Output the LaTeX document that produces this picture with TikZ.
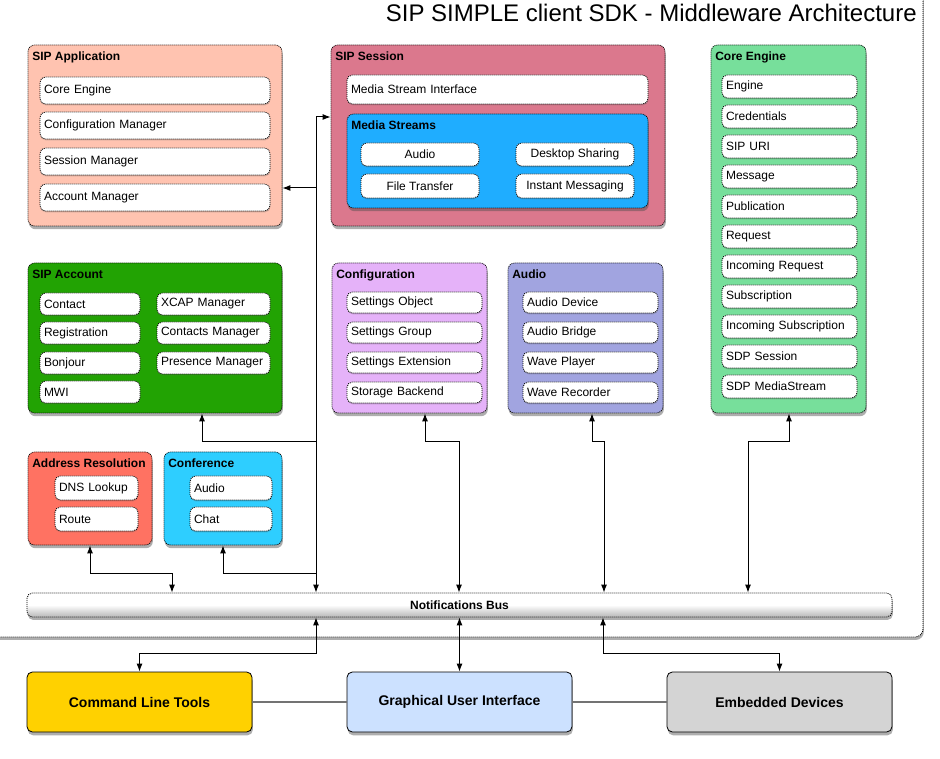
\documentclass[tikz,border=0pt]{standalone}
\usepackage{fontspec}
\setmainfont{Liberation Sans}
\usetikzlibrary{shadows,arrows.meta,calc}
\definecolor{appc}{HTML}{FFC3B0}
\definecolor{sessc}{HTML}{DB788D}
\definecolor{msc}{HTML}{1FADFF}
\definecolor{corec}{HTML}{77DF9B}
\definecolor{accc}{HTML}{22A303}
\definecolor{cfgc}{HTML}{E5B2F9}
\definecolor{audc}{HTML}{A1A4E0}
\definecolor{addrc}{HTML}{FF7262}
\definecolor{confc}{HTML}{2ECEFF}
\definecolor{cltc}{HTML}{FFD100}
\definecolor{guic}{HTML}{CCE1FF}
\definecolor{embc}{HTML}{D4D4D4}
\tikzset{
 dots/.style={dash pattern=on 0.75pt off 0.75pt, line width=0.6pt},
 cont/.style={draw, dots, rounded corners=5pt, inner sep=0pt,
   drop shadow={shadow xshift=0.6pt, shadow yshift=-2.4pt, opacity=0.45, fill=black!70}},
 ctitle/.style={font=\bfseries\fontsize{9}{11}\selectfont, inner sep=0pt},
 item/.style={draw, dots, fill=white, rounded corners=4pt, inner xsep=3pt, inner ysep=0pt,
   font=\fontsize{9}{11}\selectfont,
   drop shadow={shadow xshift=0.3pt, shadow yshift=-1pt, opacity=0.3, fill=black!60}},
 bottombox/.style={draw, line width=0.6pt, rounded corners=4pt, inner sep=0pt,
   minimum width=168.75pt, minimum height=45pt,
   font=\bfseries\fontsize{10.5}{12}\selectfont,
   drop shadow={shadow xshift=0.6pt, shadow yshift=-2.5pt, opacity=0.45, fill=black!70}},
 conn/.style={line width=0.75pt},
 grayline/.style={line width=1.2pt, draw=black!55},
 frame/.style={dots, fill=white, rounded corners=6pt,
   drop shadow={shadow xshift=0.6pt, shadow yshift=-2.2pt, opacity=0.45, fill=black!70}}
}
\newcommand{\mkcont}[7]{%
 \node[cont, fill=#6, minimum width={((#4)-(#2))*0.75pt}, minimum height={((#5)-(#3))*0.75pt}] (#1) at ({((#2)+(#4))/2},{((#3)+(#5))/2}) {};
 \node[ctitle, anchor=base west] (#1-t) at ({(#2)+4},{(#3)+16}) {#7};}
\newcommand{\mkitem}[6]{%
 \pgfmathsetmacro\mytw{((#4)-(#2))*0.75-6}%
 \node[item, text width=\mytw pt, align=left, minimum height={((#5)-(#3))*0.75pt}] (#1) at ({((#2)+(#4))/2},{((#3)+(#5))/2}) {#6};}
\newcommand{\mkcitem}[6]{%
 \node[item, align=center, minimum width={((#4)-(#2))*0.75pt}, minimum height={((#5)-(#3))*0.75pt}] (#1) at ({((#2)+(#4))/2},{((#3)+(#5))/2}) {#6};}
\begin{document}
\begin{tikzpicture}[x=0.75pt,y=-0.75pt,>={Latex[length=6pt,width=4.5pt]}]
\useasboundingbox (0,0) rectangle (940,759);
\clip (0,0) rectangle (940,759);
\fill[white] (0,0) rectangle (940,759);
% outer frame
\path[frame, draw] (-40,-40) rectangle (923,637);
\node[anchor=base east, inner sep=0pt, font=\fontsize{18}{20}\selectfont] (title) at (917,22) {SIP SIMPLE client SDK - Middleware Architecture};

% SIP Application
\mkcont{app}{28}{45}{282}{226}{appc}{SIP Application}
\mkitem{app1}{40}{77}{270}{104}{Core Engine}
\mkitem{app2}{40}{112}{270}{139}{Configuration Manager}
\mkitem{app3}{40}{148}{270}{175}{Session Manager}
\mkitem{app4}{40}{184}{270}{211}{Account Manager}

% SIP Session
\mkcont{sess}{331}{45}{665}{226}{sessc}{SIP Session}
\mkitem{msi}{347}{75}{648}{104}{Media Stream Interface}
\mkcont{ms}{347}{114}{648}{208}{msc}{Media Streams}
\mkcitem{ms1}{361}{143}{479}{166}{Audio}
\mkcitem{ms2}{516}{143}{634}{166}{Desktop Sharing}
\mkcitem{ms3}{361}{174}{479}{198}{File Transfer}
\mkcitem{ms4}{516}{174}{634}{198}{Instant Messaging}

% Core Engine
\mkcont{core}{711}{45}{866}{413}{corec}{Core Engine}
\foreach \t [count=\i] in {Engine,Credentials,SIP URI,Message,Publication,Request,Incoming Request,Subscription,Incoming Subscription,SDP Session,SDP MediaStream}{
 \mkitem{ce\i}{722}{45+30*\i}{857}{68+30*\i}{\t}
}

% SIP Account
\mkcont{acc}{28}{263}{282}{413}{accc}{SIP Account}
\mkitem{acc1}{40}{293}{140}{315}{Contact}
\mkitem{acc2}{40}{322}{140}{344}{Registration}
\mkitem{acc3}{40}{352}{140}{374}{Bonjour}
\mkitem{acc4}{40}{381}{140}{403}{MWI}
\mkitem{acc5}{157}{293}{270}{315}{XCAP Manager}
\mkitem{acc6}{157}{322}{270}{344}{Contacts Manager}
\mkitem{acc7}{157}{352}{270}{374}{Presence Manager}

% Configuration
\mkcont{cfg}{332}{263}{487}{413}{cfgc}{Configuration}
\mkitem{cfg1}{347}{292}{482}{313}{Settings Object}
\mkitem{cfg2}{347}{322}{482}{343}{Settings Group}
\mkitem{cfg3}{347}{352}{482}{373}{Settings Extension}
\mkitem{cfg4}{347}{382}{482}{403}{Storage Backend}

% Audio
\mkcont{aud}{508}{263}{663}{413}{audc}{Audio}
\mkitem{aud1}{523}{292}{658}{313}{Audio Device}
\mkitem{aud2}{523}{322}{658}{343}{Audio Bridge}
\mkitem{aud3}{523}{352}{658}{373}{Wave Player}
\mkitem{aud4}{523}{382}{658}{403}{Wave Recorder}

% Address Resolution
\mkcont{addr}{28}{452}{152}{545}{addrc}{Address Resolution}
\mkitem{addr1}{55}{476}{138}{500}{DNS Lookup}
\mkitem{addr2}{55}{507}{138}{531}{Route}

% Conference
\mkcont{conf}{164}{452}{282}{545}{confc}{Conference}
\mkitem{conf1}{190}{476}{272}{500}{Audio}
\mkitem{conf2}{190}{507}{272}{531}{Chat}

% Notifications bus
\node[draw, dots, rounded corners=4pt, inner sep=0pt, minimum width=648.75pt, minimum height=18pt,
  top color=white, bottom color=black!28, middle color=white,
  font=\bfseries\fontsize{9}{11}\selectfont,
  drop shadow={shadow xshift=0.6pt, shadow yshift=-2.2pt, opacity=0.45, fill=black!70}] (bus) at (459.5,605) {Notifications Bus};

% bottom boxes
\node[bottombox, fill=cltc] (clt) at (139.5,702) {Command Line Tools};
\node[bottombox, fill=guic] (gui) at (459.5,702) {Graphical User Interface};
\node[bottombox, fill=embc] (emb) at (779.5,702) {Embedded Devices};

% junction coordinates
\coordinate (tr) at (316,117);
\coordinate (tra) at (316,188);
\coordinate (trb) at (316,442);
\coordinate (trc) at (316,573);
\coordinate (acx) at (202,442);
\coordinate (adr) at (172,573);
\coordinate (cf1) at (425,442);
\coordinate (cf2) at (459,442);
\coordinate (au1) at (592,442);
\coordinate (au2) at (604,442);
\coordinate (co1) at (789,442);
\coordinate (co2) at (748,442);
\coordinate (bt1) at (316,653);
\coordinate (bt2) at (603,653);

% connectors
\draw[conn,<->] (bus.north -| tr) -- (tr) -- (sess.west |- tr);
\draw[conn,->] (tra) -- (app.east |- tra);
\draw[conn,->] (trb) -- (acx) -- (acc.south -| acx);
\draw[conn,->] (trc) -| (conf.south);
\draw[conn,<->] (addr.south) |- (adr) -- (bus.north -| adr);
\draw[conn,<->] (cfg.south -| cf1) -- (cf1) -- (cf2) -- (bus.north -| cf2);
\draw[conn,<->] (aud.south -| au1) -- (au1) -- (au2) -- (bus.north -| au2);
\draw[conn,<->] (core.south -| co1) -- (co1) -- (co2) -- (bus.north -| co2);
\draw[conn,<->] (bus.south -| bt1) -- (bt1) -| (clt.north);
\draw[conn,<->] (bus.south -| gui.north) -- (gui.north);
\draw[conn,<->] (bus.south -| bt2) -- (bt2) -| (emb.north);
\draw[grayline] (clt.east) -- (gui.west);
\draw[grayline] (gui.east) -- (emb.west);
\end{tikzpicture}
\end{document}
